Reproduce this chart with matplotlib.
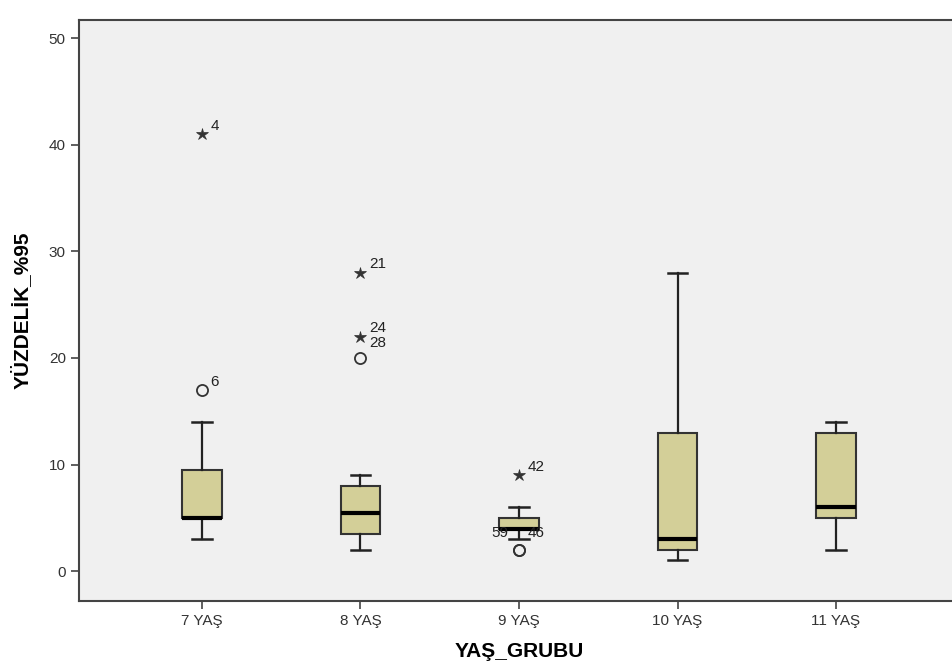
import matplotlib.pyplot as plt

plt.rcParams['font.family'] = ['Liberation Sans Narrow', 'Liberation Sans', 'DejaVu Sans']

# box statistics per age group
groups = ['7 YAŞ', '8 YAŞ', '9 YAŞ', '10 YAŞ', '11 YAŞ']
q1 = [5, 3.5, 4, 2, 5]
med = [5, 5.5, 4, 3, 6]
q3 = [9.5, 8, 5, 13, 13]
whislo = [3, 2, 3, 1, 2]
whishi = [14, 9, 6, 28, 14]

# outliers (circle) and extremes (star): group index, value, case label
outlier_grp = [1, 2, 3, 3]
outlier_val = [17, 20, 2, 2]
outlier_lbl = ['6', '28', '59', '46']
extreme_grp = [1, 2, 2, 3]
extreme_val = [41, 28, 22, 9]
extreme_lbl = ['4', '21', '24', '42']

stats = []
for i in range(len(groups)):
    stats.append(dict(label=groups[i], q1=q1[i], med=med[i], q3=q3[i],
                      whislo=whislo[i], whishi=whishi[i], fliers=[]))

fig = plt.figure(figsize=(9.53, 6.7), dpi=100)
ax = fig.add_axes([79 / 953, 69 / 670, 880 / 953, 581 / 670])
ax.set_facecolor('#f0f0f0')

ax.bxp(stats, positions=range(1, 6), widths=0.25, patch_artist=True,
       showfliers=False,
       boxprops=dict(facecolor='#d3cf98', edgecolor='#333333', linewidth=1.5),
       medianprops=dict(color='black', linewidth=3, solid_capstyle='butt'),
       whiskerprops=dict(color='#222222', linewidth=1.6),
       capprops=dict(color='#222222', linewidth=1.8),
       capwidths=0.125)

ax.plot(outlier_grp, outlier_val, 'o', ms=8, mfc='none', mec='#333333', mew=1.3)
ax.plot(extreme_grp, extreme_val, '*', ms=9, color='#333333', mew=0.5)

for g, v, t in zip(extreme_grp, extreme_val, extreme_lbl):
    ax.annotate(t, (g, v), xytext=(6, 3), textcoords='offset points',
                fontsize=11, color='#222222')
# case labels for circles; ties at the same value are spread side by side
lbl_offsets = [(6, 3), (6, 8), (-14, 9), (6, 9)]
for (g, v, t), off in zip(zip(outlier_grp, outlier_val, outlier_lbl), lbl_offsets):
    ax.annotate(t, (g, v), xytext=off, textcoords='offset points',
                fontsize=11, color='#222222', ha='left' if off[0] > 0 else 'center')

ax.set_xlim(0.224, 5.776)
ax.set_ylim(-2.8, 51.7)
ax.set_yticks([0, 10, 20, 30, 40, 50])
ax.set_xticks(range(1, 6))
ax.set_xticklabels(groups)

for side in ['left', 'top', 'bottom']:
    ax.spines[side].set_color('#444444')
    ax.spines[side].set_linewidth(1.5)
ax.spines['right'].set_visible(False)
ax.tick_params(direction='out', length=6, width=1.2, color='#444444',
               labelsize=11, labelcolor='#333333')

ax.set_xlabel('YAŞ_GRUBU', fontsize=15, fontweight='bold', labelpad=10)
ax.set_ylabel('YÜZDELİK_%95', fontsize=15, fontweight='bold', labelpad=12)

fig.savefig('out.png', dpi=100)
